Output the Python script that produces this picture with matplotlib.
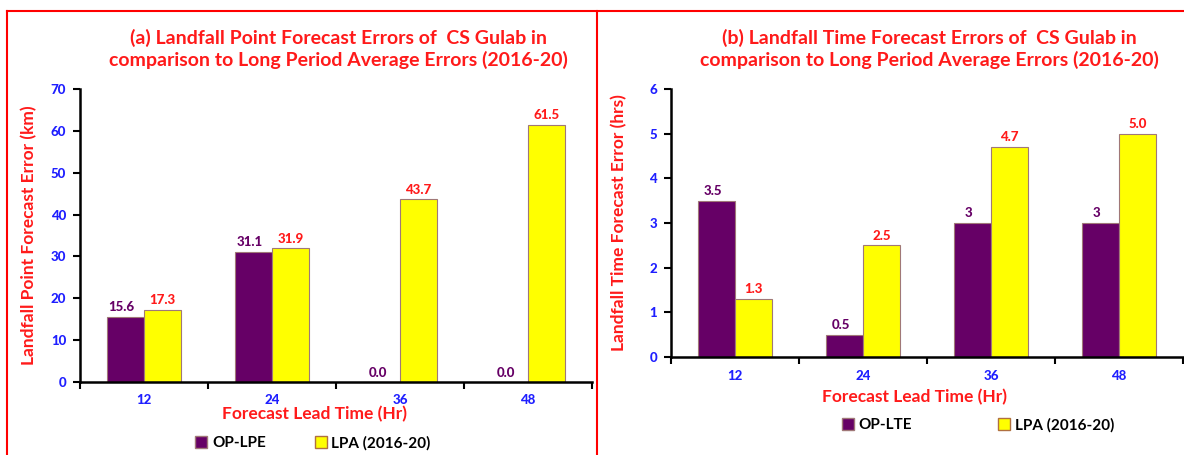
import numpy as np
import matplotlib
matplotlib.use("Agg")
import matplotlib.pyplot as plt
from matplotlib.lines import Line2D
from matplotlib.patches import Patch

plt.rcParams['font.family'] = ['Lato', 'DejaVu Sans']
plt.rcParams['font.weight'] = 'bold'

# data
lead_time = ['12', '24', '36', '48']
op_lpe = [15.6, 31.1, 0.0, 0.0]
lpa_lpe = [17.3, 31.9, 43.7, 61.5]
op_lpe_txt = ['15.6', '31.1', '0.0', '0.0']
lpa_lpe_txt = ['17.3', '31.9', '43.7', '61.5']

op_lte = [3.5, 0.5, 3.0, 3.0]
lpa_lte = [1.3, 2.5, 4.7, 5.0]
op_lte_txt = ['3.5', '0.5', '3', '3']
lpa_lte_txt = ['1.3', '2.5', '4.7', '5.0']

PURPLE = '#660066'
YELLOW = '#FFFF00'
EDGE = '#A07878'
RED = '#FF1A1A'
BLUE = '#1F1FFF'

fig = plt.figure(figsize=(11.84, 4.55), dpi=100)

W = 512 / 1184
ax1 = fig.add_axes([80 / 1184, 1 - 382 / 455, W, (382 - 89) / 455])
ax2 = fig.add_axes([671 / 1184, 1 - 357 / 455, W, (357 - 89) / 455])


def draw(ax, op, lpa, op_txt, lpa_txt, ymax, ystep, ylabel, off, lpad):
	x = np.arange(len(lead_time))
	bw = 0.29
	ax.bar(x - bw / 2, op, bw, color=PURPLE, edgecolor=EDGE, linewidth=0.8)
	ax.bar(x + bw / 2, lpa, bw, color=YELLOW, edgecolor=EDGE, linewidth=0.8)
	for i in range(len(x)):
		ax.text(x[i] - bw / 2 - 0.03, op[i] + off, op_txt[i], ha='center', va='bottom',
				color=PURPLE, fontsize=9.5, fontweight='black')
		ax.text(x[i] + bw / 2, lpa[i] + off, lpa_txt[i], ha='center', va='bottom',
				color=RED, fontsize=9.5, fontweight='black')
	ax.set_xlim(-0.5, len(x) - 0.5)
	ax.set_ylim(0, ymax)
	yt = np.arange(0, ymax + ystep / 2, ystep)
	ax.set_yticks(yt)
	ax.set_yticklabels([str(int(v)) for v in yt], fontweight='black', fontsize=9.5, color=BLUE)
	ax.set_xticks(x)
	ax.set_xticklabels(lead_time, fontweight='black', fontsize=9.5, color=BLUE)
	ax.set_xticks(np.arange(-0.5, len(x)), minor=True)
	ax.tick_params(axis='x', which='major', length=0, pad=9)
	ax.tick_params(axis='x', which='minor', length=5, width=1.5, direction='out')
	ax.tick_params(axis='y', length=5, width=1.5, pad=5)
	for s in ['top', 'right']:
		ax.spines[s].set_visible(False)
	for s in ['left', 'bottom']:
		ax.spines[s].set_linewidth(1.8)
	ax.set_ylabel(ylabel, color=RED, fontsize=12.5, fontweight='bold', labelpad=lpad)


draw(ax1, op_lpe, lpa_lpe, op_lpe_txt, lpa_lpe_txt, 70, 10,
	'Landfall Point Forecast Error (km)', 0.8, 10)
draw(ax2, op_lte, lpa_lte, op_lte_txt, lpa_lte_txt, 6, 1,
	'Landfall Time Forecast Error (hrs)', 0.08, 16)

# titles
fig.text(338 / 1184, 1 - 49 / 455,
	'(a) Landfall Point Forecast Errors of  CS Gulab in\ncomparison to Long Period Average Errors (2016-20)',
	ha='center', va='center', color=RED, fontsize=14, fontweight='bold', linespacing=1.3)
fig.text(929 / 1184, 1 - 49 / 455,
	'(b) Landfall Time Forecast Errors of  CS Gulab in\ncomparison to Long Period Average Errors (2016-20)',
	ha='center', va='center', color=RED, fontsize=14, fontweight='bold', linespacing=1.3)

# x labels
fig.text(315 / 1184, 1 - 414 / 455, 'Forecast Lead Time (Hr)', ha='center', va='center',
	color=RED, fontsize=12.5, fontweight='bold')
fig.text(915 / 1184, 1 - 397 / 455, 'Forecast Lead Time (Hr)', ha='center', va='center',
	color=RED, fontsize=12.5, fontweight='bold')

# legends
h1 = [Patch(facecolor=PURPLE, edgecolor=EDGE), Patch(facecolor=YELLOW, edgecolor='#B07040')]
fig.legend(h1, ['OP-LPE', 'LPA (2016-20)'], loc='center', bbox_to_anchor=(313 / 1184, 1 - 443 / 455),
	ncol=2, frameon=False, columnspacing=3.2, handlelength=0.8, handleheight=0.8,
	handletextpad=0.3, prop={'weight': 'bold', 'size': 11})
fig.legend(h1, ['OP-LTE', 'LPA (2016-20)'], loc='center', bbox_to_anchor=(978 / 1184, 1 - 425 / 455),
	ncol=2, frameon=False, columnspacing=5.6, handlelength=0.8, handleheight=0.8,
	handletextpad=0.3, prop={'weight': 'bold', 'size': 11})

# red panel borders
bx0 = 7 / 1184
bsep = 597 / 1184
btop = 1 - 11 / 455
fig.add_artist(Line2D([bx0, bx0], [0, btop], color='red', linewidth=1.5, transform=fig.transFigure))
fig.add_artist(Line2D([bsep, bsep], [0, btop], color='red', linewidth=1.5, transform=fig.transFigure))
fig.add_artist(Line2D([bx0, 1], [btop, btop], color='red', linewidth=1.5, transform=fig.transFigure))

fig.savefig('out.png', dpi=100)
